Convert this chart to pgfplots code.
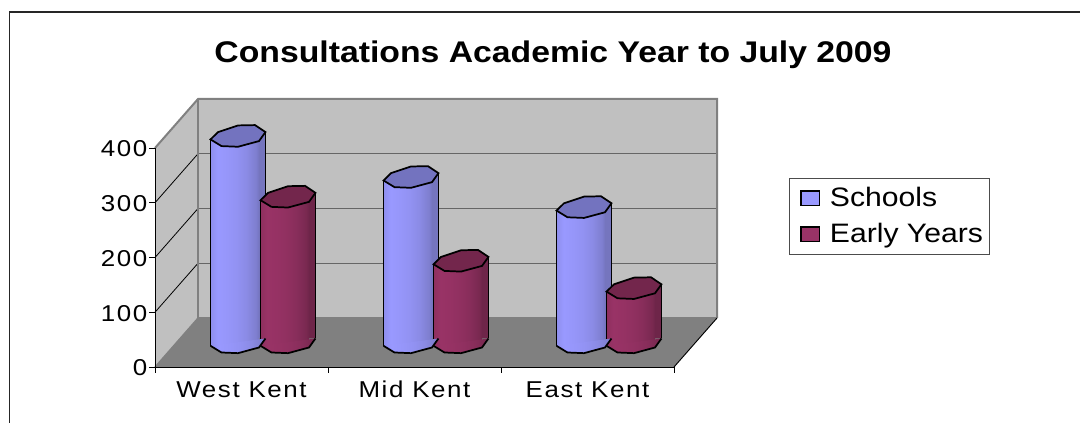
\documentclass[border=0pt]{standalone}
\usepackage{fontspec}
\setmainfont[FakeStretch=1.13]{Liberation Sans}
\usepackage{pgfplots}
\usepackage{pgfplotstable}
\pgfplotsset{compat=1.18}

\definecolor{wall}{HTML}{C0C0C0}
\definecolor{floorc}{HTML}{808080}
\definecolor{gridc}{HTML}{666666}
\definecolor{schoolsc}{HTML}{9999FF}
\definecolor{schoolsr}{HTML}{7575BE}
\definecolor{schoolstop}{HTML}{7373BF}
\definecolor{earlyc}{HTML}{993366}
\definecolor{earlyr}{HTML}{6E2549}
\definecolor{earlytop}{HTML}{73264C}

% faceted look of the cylinders, left to right
\pgfdeclarehorizontalshading{cylschools}{100bp}{
  color(0bp)=(schoolsc!93!black); color(25bp)=(schoolsc!93!black); color(32bp)=(schoolsc);
  color(42bp)=(schoolsc!92!schoolsr); color(52bp)=(schoolsc!80!schoolsr);
  color(62bp)=(schoolsc!60!schoolsr); color(72bp)=(schoolsc!25!schoolsr);
  color(75bp)=(schoolsr); color(100bp)=(schoolsr)}
\pgfdeclarehorizontalshading{cylearly}{100bp}{
  color(0bp)=(earlyc!93!black); color(25bp)=(earlyc!93!black); color(32bp)=(earlyc);
  color(42bp)=(earlyc!92!earlyr); color(52bp)=(earlyc!80!earlyr);
  color(62bp)=(earlyc!60!earlyr); color(72bp)=(earlyc!25!earlyr);
  color(75bp)=(earlyr); color(100bp)=(earlyr)}

% cap polygons around the cylinder axis
\pgfdeclareplotmark{captop}{%
  \pgfpathmoveto{\pgfqpoint{-20.6pt}{-2.5pt}}%
  \pgfpathlineto{\pgfqpoint{-15pt}{3pt}}%
  \pgfpathlineto{\pgfqpoint{0pt}{8pt}}%
  \pgfpathlineto{\pgfqpoint{12.75pt}{8.25pt}}%
  \pgfpathlineto{\pgfqpoint{20.6pt}{3pt}}%
  \pgfpathlineto{\pgfqpoint{15.75pt}{-3.75pt}}%
  \pgfpathlineto{\pgfqpoint{0pt}{-8pt}}%
  \pgfpathlineto{\pgfqpoint{-12.4pt}{-7.5pt}}%
  \pgfpathclose
  \pgfusepathqfillstroke}
\newcommand{\bottomedge}{%
  \pgfpathmoveto{\pgfqpoint{-20.6pt}{-2.5pt}}%
  \pgfpathlineto{\pgfqpoint{-12.4pt}{-7.5pt}}%
  \pgfpathlineto{\pgfqpoint{0pt}{-8pt}}%
  \pgfpathlineto{\pgfqpoint{15.75pt}{-3.75pt}}%
  \pgfpathlineto{\pgfqpoint{20.6pt}{3pt}}}
\pgfdeclareplotmark{capbotschools}{\bottomedge\pgfpathclose\pgfshadepath{cylschools}{0}\pgfusepath{discard}
  \bottomedge\pgfusepathqstroke}
\pgfdeclareplotmark{capbotearly}{\bottomedge\pgfpathclose\pgfshadepath{cylearly}{0}\pgfusepath{discard}
  \bottomedge\pgfusepathqstroke}

\pgfplotstableread{
pos val
0 377
1 302
2 247
}\schools
\pgfplotstableread{
pos val
0 266
1 149
2 99
}\earlyyears

\pgfplotsset{
  frameaxis/.style={
    at={(116.25pt,42pt)}, anchor=south west,
    scale only axis, width=389.25pt, height=164.25pt,
    clip=false},
  patch/.style={legend image code/.code={
    \path (-5pt,0pt) (19.5pt,0pt);
    \draw[black,line width=1.2pt,fill=#1] (0pt,-5.5pt) rectangle (14pt,5.5pt);}},
}

% one cylinder series: #1 table, #2 shift in pt, #3 shading, #4 right colour, #5 cap colour, #6 bottom mark
\newcommand{\cylinders}[6]{%
  \addplot[forget plot, only marks, mark=#6, mark options={line width=1.3pt,draw=black}, shift={(#2,0pt)}] table[x=pos,y expr=0] {#1};
  % one plot per bar, or the shading would run across the whole series
  \pgfplotsinvokeforeach{0,1,2}{
    \addplot[forget plot, ybar, bar shift=-2.4pt, bar width=36.4pt, draw=none, shading=#3, shift={(#2,-2.5pt)}, restrict x to domain=##1:##1] table[x=pos,y=val] {#1};
  }
  \addplot[forget plot, ybar, bar shift=18.2pt, bar width=4.85pt, draw=none, fill=#4, shift={(#2,3pt)}] table[x=pos,y=val] {#1};
  \addplot[forget plot, ycomb, line width=1.3pt, black, mark=none, shift={(#2-20.6pt,-2.5pt)}] table[x=pos,y=val] {#1};
  \addplot[forget plot, ycomb, line width=1.3pt, black, mark=none, shift={(#2+20.6pt,3pt)}] table[x=pos,y=val] {#1};
  \addplot[forget plot, only marks, mark=captop, mark options={fill=#5,draw=black,line width=1.3pt}, shift={(#2,0pt)}] table[x=pos,y=val] {#1};
}

\newcommand{\tickfont}{\fontsize{17.2pt}{20pt}\selectfont\addfontfeature{LetterSpace=7}}

\begin{document}
\begin{tikzpicture}[x=0.75pt,y=0.75pt]
  \path[use as bounding box] (0,0) rectangle (1080,423);
  % chart frame
  \draw[black!85,line width=1.3pt] (9.5,0) -- (9.5,411) -- (1080,411);
  \node[font=\bfseries\fontsize{22.4pt}{26pt}\selectfont] at (553,368.5) {Consultations Academic Year to July 2009};

  % walls, floor and axes
  \begin{axis}[frameaxis,
    xmin=0, xmax=3, ymin=0, ymax=400,
    axis x line=bottom, axis y line=left,
    axis line style={black,line width=0.7pt,-},
    xtick={0,1,2,3}, xticklabels={},
    extra x ticks={0.5,1.5,2.5},
    extra x tick labels={West Kent,Mid Kent,East Kent},
    extra x tick style={major tick length=0pt},
    ytick={0,100,200,300,400},
    tick align=outside, major tick length=4.5pt,
    tick style={black,line width=0.7pt},
    x tick label style={font=\tickfont, text height=12pt, text depth=0pt, yshift=-7.5pt},
    y tick label style={font=\tickfont, xshift=2.2pt, yshift=-0.7pt},
    /pgf/number format/assume math mode=true,
    axis on top]
    \addplot[fill=wall,draw=none] coordinates {(0.2486,89.5) (3.2486,89.5) (3.2486,489.5) (0.2486,489.5)} -- cycle;
    \addplot[fill=wall,draw=none] coordinates {(0,0) (0.2486,89.5) (0.2486,489.5) (0,400)} -- cycle;
    \addplot[fill=floorc,draw=none] coordinates {(0,0) (3,0) (3.2486,89.5) (0.2486,89.5)} -- cycle;
    % grid on the back wall
    \addplot[gridc,line width=1.1pt] coordinates {(0.2486,189.5) (3.2486,189.5)};
    \addplot[gridc,line width=1.1pt] coordinates {(0.2486,289.5) (3.2486,289.5)};
    \addplot[gridc,line width=1.1pt] coordinates {(0.2486,389.5) (3.2486,389.5)};
    % grid on the side wall
    \addplot[black,line width=0.6pt] coordinates {(0,100) (0.2486,189.5)};
    \addplot[black,line width=0.6pt] coordinates {(0,200) (0.2486,289.5)};
    \addplot[black,line width=0.6pt] coordinates {(0,300) (0.2486,389.5)};
    % wall borders
    \addplot[floorc,line width=1.5pt] coordinates {(0,400) (0.2486,489.5) (3.2486,489.5) (3.2486,89.5)};
    \addplot[floorc,line width=1.5pt] coordinates {(0.2486,489.5) (0.2486,89.5) (3.2486,89.5)};
    \addplot[floorc,line width=1pt] coordinates {(0,0) (0.2486,89.5)};
    \addplot[black,line width=0.7pt] coordinates {(3,0) (3.2486,89.5)};
  \end{axis}

  % cylinders stand half way through the depth of the floor
  \begin{axis}[frameaxis, hide axis,
    xmin=-0.6243, xmax=2.3757, ymin=-44.75, ymax=355.25,
    legend cell align=left,
    legend style={at={(rel axis cs:1.2216,0.865)}, anchor=north west,
      draw=black!70, line width=0.8pt, font=\fontsize{20pt}{22pt}\selectfont,
      inner xsep=3pt, inner ysep=5pt, row sep=7pt}]
    \cylinders{\schools}{-18.75pt}{cylschools}{schoolsr}{schoolstop}{capbotschools}
    \cylinders{\earlyyears}{18.75pt}{cylearly}{earlyr}{earlytop}{capbotearly}
    \addlegendimage{patch=schoolsc}
    \addlegendentry{Schools}
    \addlegendimage{patch=earlyc}
    \addlegendentry{Early Years}
  \end{axis}
\end{tikzpicture}
\end{document}
